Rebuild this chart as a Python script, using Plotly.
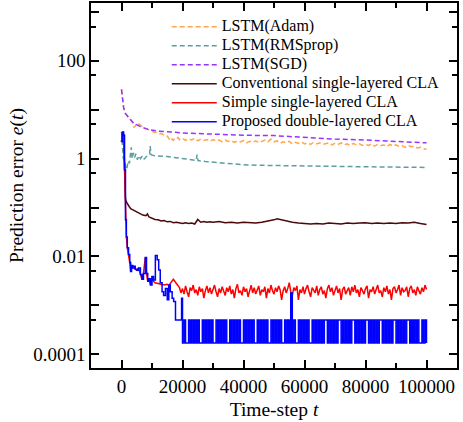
import plotly.graph_objects as go

# ---------------- data ----------------
# LSTM(Adam)
adam_t = [0, 300, 700, 1200, 1800, 2500, 3000, 3500, 4000, 4500, 5000, 5500, 6000, 6500,
          7000, 7500, 8000, 8500, 9000, 9500, 10000, 10500, 11000, 11500, 12000, 12500,
          13000, 13500, 14000, 14500, 15000, 15500, 16000, 16500, 17000, 17500, 18000,
          18500, 19000, 19500] + list(range(20000, 100001, 1000))
adam_v = [26, 18, 11, 8.5, 7.5, 6.8, 6.2, 5.6, 4.4, 4.6, 5.4, 5.2, 4.9, 4.6,
          4.5, 4.2, 4.1, 4.0, 3.8, 3.7, 3.6, 3.5, 3.4, 3.45, 3.3, 3.2,
          3.25, 3.1, 3.0, 3.05, 2.9, 2.6, 2.3, 2.5, 2.35, 2.6, 2.5,
          2.7, 2.45, 2.6,
          2.6, 2.35, 2.55, 2.4, 2.6, 2.3, 2.5, 2.35, 2.45, 2.25,
          2.45, 2.3, 2.4, 2.2, 2.4, 2.25, 2.35, 2.15, 2.3, 2.2,
          2.35, 2.1, 2.25, 2.15, 2.3, 2.1, 2.25, 2.4, 2.2, 2.5,
          2.2, 2.3, 2.05, 2.2, 2.1, 2.25, 2.0, 2.15, 2.05, 2.2,
          2.0, 2.1, 1.95, 2.15, 2.0, 2.1, 1.95, 2.05, 2.1, 1.9,
          2.05, 1.95, 2.1, 1.9, 2.0, 1.85, 2.05, 1.9, 2.0, 1.85,
          1.95, 1.85, 2.0, 1.8, 1.95, 1.85, 1.9, 1.75, 1.95, 1.8,
          1.9, 1.75, 1.85, 1.7, 1.85, 1.75, 1.8, 1.65, 1.7, 1.6,
          1.55]

# LSTM(RMSprop)
rms_t = [0, 300, 600, 900, 1200, 1500, 1800, 2200, 2600, 3000, 3200, 3500, 3900, 4300,
         4700, 5200, 5700, 6200, 6700, 7200, 7700, 8200, 8700, 9200, 9400, 9700, 10500,
         12000, 13500, 15000, 17500, 20000, 22500, 24500, 24800, 25100, 27500, 30000,
         35000, 40000, 45000, 50000, 60000, 70000, 80000, 90000, 100000]
rms_v = [3.5, 2.0, 1.0, 1.0, 0.75, 0.6, 0.65, 0.9, 0.8, 1.2, 1.7, 1.0, 1.3, 1.05,
         1.25, 0.95, 1.15, 1.0, 1.1, 0.95, 1.05, 1.1, 1.15, 1.2, 1.8, 1.2, 1.15,
         1.15, 1.12, 1.1, 1.05, 1.0, 0.95, 0.92, 1.2, 0.91, 0.87, 0.84,
         0.78, 0.75, 0.73, 0.72, 0.7, 0.69, 0.68, 0.67, 0.66]

# LSTM(SGD)
sgd_t = [0, 300, 700, 1200, 1800, 2500, 3000, 4000, 5000, 6200, 8000, 9500, 12000, 15000,
         20000, 25000, 30000, 40000, 50000, 60000, 70000, 80000, 90000, 100000]
sgd_v = [26, 18, 11, 8.5, 7.5, 6.8, 6.2, 5.3, 4.9, 4.5, 4.1, 3.85, 3.65, 3.5,
         3.35, 3.25, 3.15, 3.0, 2.95, 2.7, 2.5, 2.4, 2.25, 2.1]

# Conventional single-layered CLA
conv_t = [0, 300, 700, 1000, 1300, 1600, 2000, 2500, 3000, 4000, 5000, 6000, 7000, 8000,
          8500, 9000, 10000, 11000, 12000, 13000, 14000, 15000, 16000, 17000, 18000, 19000,
          20000, 21000, 22000, 23000, 24000, 25000, 26000, 27000, 28000, 29000, 30000,
          32000, 34000, 36000, 38000, 40000, 42000, 44000, 46000, 48000, 50000, 51000,
          52000, 54000, 56000, 58000, 60000, 62000, 64000, 66000, 68000, 70000, 72000,
          74000, 76000, 78000, 80000, 82000, 84000, 86000, 88000, 90000, 92000, 94000,
          96000, 98000, 100000]
conv_v = [2.2, 3.5, 3.0, 0.6, 0.15, 0.13, 0.115, 0.105, 0.095, 0.088, 0.082, 0.075, 0.07, 0.068,
          0.074, 0.064, 0.06, 0.057, 0.056, 0.053, 0.054, 0.051, 0.052, 0.049, 0.05, 0.048,
          0.047, 0.049, 0.047, 0.048, 0.046, 0.057, 0.05, 0.052, 0.05, 0.051, 0.05,
          0.052, 0.049, 0.05, 0.048, 0.05, 0.049, 0.048, 0.05, 0.052, 0.056, 0.059,
          0.057, 0.053, 0.05, 0.048, 0.047, 0.046, 0.047, 0.046, 0.048, 0.047, 0.046,
          0.048, 0.047, 0.048, 0.049, 0.047, 0.048, 0.047, 0.048, 0.047, 0.049, 0.048,
          0.05, 0.047, 0.045]

# Simple single-layered CLA: early part, then a noisy tail every 500 steps (values in 1e-4)
simple_early_t = [0, 300, 700, 1000, 1300, 1600, 1900, 2300, 2700, 3000, 3300, 3700, 4000, 4500,
                  5100, 5600, 6200, 6700, 7200, 7800, 8200, 8600, 9000, 9500, 10000, 10500, 11000,
                  12000, 13000, 14000, 15000, 15500, 16000, 17000, 18000, 19000, 19500]
simple_early_v = [2.2, 3.5, 3.0, 0.6, 0.056, 0.025, 0.015, 0.011, 0.0075, 0.0049, 0.0065, 0.0058, 0.0063, 0.0055,
                  0.0052, 0.0058, 0.0043, 0.0034, 0.0045, 0.0095, 0.0045, 0.0031, 0.0035, 0.0026, 0.0039, 0.0031, 0.0029,
                  0.0028, 0.0027, 0.0026, 0.0027, 0.0025, 0.0028, 0.0034, 0.0028, 0.0023, 0.0018]
simple_tail_start = 20000
simple_tail_step = 500
simple_tail_e4 = [22, 17, 25, 19, 15, 23, 20, 26, 18, 21,
                  16, 24, 19, 22, 14, 20, 25, 18, 23, 17,
                  21, 26, 19, 15, 22, 18, 24, 20, 16, 23,
                  19, 25, 17, 21, 14, 22, 27, 18, 20, 16,
                  24, 19, 22, 15, 21, 26, 18, 23, 17, 20,
                  25, 16, 21, 19, 24, 14, 22, 18, 26, 20,
                  17, 23, 19, 25, 21, 13, 20, 24, 18, 22,
                  29, 19, 16, 23, 20, 25, 13, 21, 18, 24,
                  17, 22, 26, 19, 15, 23, 20, 18, 25, 16,
                  21, 24, 17, 20, 14, 22, 26, 19, 23, 16,
                  20, 25, 18, 22, 13, 21, 24, 17, 20, 23,
                  16, 24, 19, 26, 18, 21, 15, 23, 20, 17,
                  22, 25, 14, 21, 19, 24, 17, 22, 26, 18,
                  20, 15, 23, 19, 25, 17, 21, 13, 22, 24,
                  18, 21, 26, 16, 23, 19, 20, 24, 15, 22,
                  25, 18, 21, 16, 24, 20, 17, 23, 19, 26,
                  21]

# Proposed double-layered CLA: early part, then a two-level tail (20000..100000, every 500 steps)
prop_early_t = [0, 300, 700, 1000, 1300, 1600, 1900, 2300, 2700, 3000, 3300, 3700, 4000, 4500,
                5100, 5600, 6200, 6700, 7200, 7800, 8200, 8600, 9000, 9500, 10000, 10500,
                11100, 11700, 12200, 12700, 13300, 13800, 14400, 15000, 15500, 16000, 16600,
                17100, 17700, 18500, 19300, 19700]
prop_early_v = [2.2, 3.5, 3.0, 0.6, 0.056, 0.025, 0.015, 0.011, 0.0075, 0.0049, 0.0065, 0.0058, 0.0063, 0.0055,
                0.0052, 0.0058, 0.0043, 0.0034, 0.0045, 0.0095, 0.0045, 0.0031, 0.0035, 0.0026, 0.0039, 0.0033,
                0.0105, 0.0086, 0.0053, 0.0029, 0.0019, 0.0016, 0.0022, 0.0013, 0.0026, 0.0019, 0.0014,
                0.0012, 0.0005, 0.0005, 0.0005, 0.0014]
prop_tail_start = 20000
prop_tail_step = 500
prop_tail_levels = {"H": 0.0005, "L": 0.00017, "S": 0.0018}
prop_tail_code = ("LHLLHLHLHL" "HLLHLHLHLH" "LLHLHLHLHL" "LHLHLHLHLL" "HLHLHLHLLH"
                  "LHLHLHLLHL" "HLHLHLLHLH" "LSLHLLHLHL" "HLHLLHLHLH" "LHLHHLHLHL"
                  "HLHHLHLHLH" "LHHLHLHLHL" "HHLHLHLHLH" "HLHLHLHLHH" "LHLHLHLHHL"
                  "HLHLHLLHLH" "L")

x_tickvals = [0, 20000, 40000, 60000, 80000, 100000]
x_ticktext = ["0", "20000", "40000", "60000", "80000", "100000"]
x_minor = [10000, 30000, 50000, 70000, 90000]
y_tickvals = [1e-4, 1e-3, 1e-2, 1e-1, 1, 10, 100, 1000]
y_ticktext = ["0.0001", "", "0.01", "", "1", "", "100", ""]
y_minor = [5e-4, 5e-3, 5e-2, 0.5, 5, 50, 500]

names = ["LSTM(Adam)", "LSTM(RMSprop)", "LSTM(SGD)", "Conventional single-layered CLA",
         "Simple single-layered CLA", "Proposed double-layered CLA"]
colors = ["#ffa64d", "#5f9ea0", "#9933ff", "#4a0808", "#ff0000", "#0000ff"]

# ---------------- figure ----------------
simple_t = simple_early_t + [simple_tail_start + i * simple_tail_step for i in range(len(simple_tail_e4))]
simple_v = simple_early_v + [v * 1e-4 for v in simple_tail_e4]
prop_t = prop_early_t + [prop_tail_start + i * prop_tail_step for i in range(len(prop_tail_code))]
prop_v = prop_early_v + [prop_tail_levels[c] for c in prop_tail_code]

series = [(adam_t, adam_v, "5px,3px", "linear"), (rms_t, rms_v, "5px,3px", "linear"),
          (sgd_t, sgd_v, "5px,3px", "linear"), (conv_t, conv_v, "solid", "linear"),
          (simple_t, simple_v, "solid", "linear"), (prop_t, prop_v, "solid", "hv")]

fig = go.Figure()
for (t, v, dash, shape), name, col in zip(series, names, colors):
    fig.add_trace(go.Scatter(x=t, y=v, mode="lines",
                             name='<span style="font-size:16px">' + name + "</span>",
                             line=dict(color=col, width=1.5, dash=dash, shape=shape)))

serif = "Liberation Serif, Times New Roman, serif"
fig.update_layout(
    width=463, height=422,
    margin=dict(l=91, r=6, t=3, b=54),
    paper_bgcolor="white", plot_bgcolor="white",
    font=dict(family=serif, color="black", size=19),
    showlegend=True,
    legend=dict(x=0.207, y=0.975, xanchor="left", yanchor="top",
                bgcolor="rgba(0,0,0,0)", borderwidth=0,
                font=dict(family=serif, size=11, color="black"),
                itemwidth=45),
    xaxis=dict(range=[-10000, 110000], tickvals=x_tickvals, ticktext=x_ticktext,
               ticks="inside", ticklen=8, tickwidth=1.5, tickcolor="black",
               minor=dict(tickvals=x_minor, ticks="inside", ticklen=5, tickwidth=1.5, tickcolor="black"),
               showline=True, linecolor="black", linewidth=1.5, mirror="ticks",
               showgrid=False, zeroline=False, automargin=False,
               tickfont=dict(family=serif, size=19),
               title=dict(text="Time-step <i>t</i>", font=dict(family=serif, size=19.5), standoff=7)),
    yaxis=dict(type="log", range=[-4.28, 3.18], tickvals=y_tickvals, ticktext=y_ticktext,
               ticks="inside", ticklen=8, tickwidth=1.5, tickcolor="black",
               minor=dict(tickvals=y_minor, ticks="inside", ticklen=5, tickwidth=1.5, tickcolor="black"),
               showline=True, linecolor="black", linewidth=1.5, mirror="ticks",
               showgrid=False, zeroline=False, automargin=False,
               tickfont=dict(family=serif, size=19),
               title=dict(text="Prediction error <i>e</i>(<i>t</i>)", font=dict(family=serif, size=19.5), standoff=4)),
)

fig.write_html("out.html", config={"displayModeBar": False},
               post_script="document.body.style.margin='0px';document.body.style.overflow='hidden';")
